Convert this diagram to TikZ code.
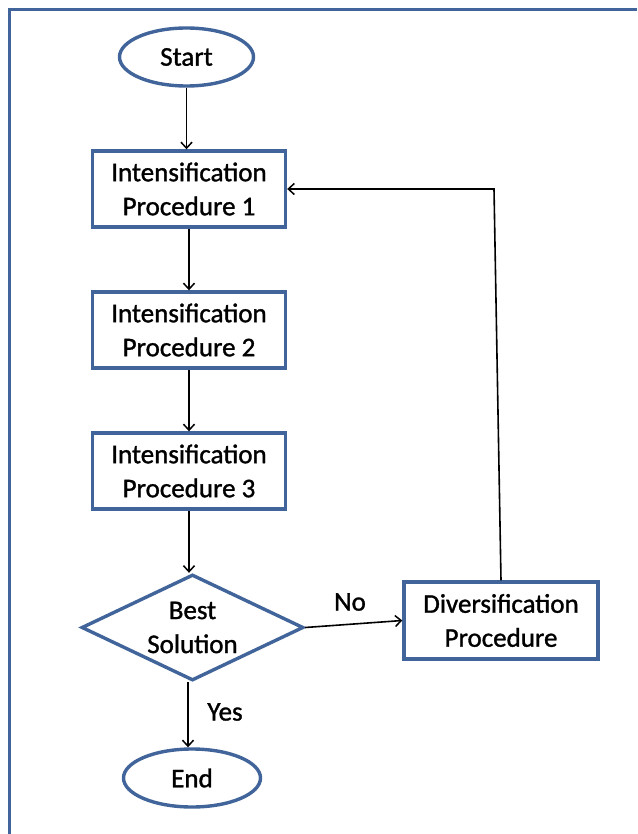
\documentclass[tikz,border=0pt]{standalone}
\usepackage{fontspec}
\setmainfont{Carlito}[FakeBold=1.2]
\usetikzlibrary{shapes.geometric,arrows.meta}
\definecolor{frameblue}{HTML}{41659A}
\begin{document}
\begin{tikzpicture}[x=1pt,y=-1pt,
  every node/.style={font=\fontsize{27}{34}\selectfont\addfontfeature{FakeBold=1.2}, align=center, inner sep=0pt},
  procbox/.style={draw=frameblue, line width=3.4pt, minimum width=193pt, minimum height=76pt},
  termnode/.style={ellipse, draw=frameblue, line width=3.4pt, minimum width=134pt, minimum height=58pt},
  decide/.style={diamond, draw=frameblue, line width=3.4pt, minimum width=222pt, minimum height=106pt, aspect=2.07},
  conn/.style={line width=1.6pt, -{Straight Barb[length=6pt,width=11pt,line width=1.5pt]}},
  lbl/.style={font=\fontsize{27}{30}\selectfont\addfontfeature{FakeBold=1.2}}]
\useasboundingbox (0,0) rectangle (637,834);
\fill[white] (0,0) rectangle (637,834);
\draw[frameblue, line width=3pt] (9,834) -- (9,9.5) -- (637,9.5);

\node[termnode] (start) at (186.5,57) {Start};
\node[procbox] (p1) at (189,189) {Intensification\\Procedure 1};
\node[procbox] (p2) at (189,330) {Intensification\\Procedure 2};
\node[procbox] (p3) at (189,471) {Intensification\\Procedure 3};
\node[decide] (best) at (192.5,627.5) {Best\\Solution};
\node[termnode, minimum width=137pt, minimum height=58pt] (end) at (192,778) {End};
\node[procbox, minimum width=194pt, minimum height=77pt] (div) at (501,620.5) {Diversification\\Procedure};

\node[lbl] (yes) at (225,712) {Yes};
\node[lbl] (no) at (350,602) {No};

\coordinate (corner) at (494,189);

\draw[conn] (start.south) -- (p1.north -| start.south);
\draw[conn] (p1.south) -- (p2.north);
\draw[conn] (p2.south) -- (p3.north);
\draw[conn] (p3.south) -- (best.north -| p3.south);
\draw[conn] (best.south -| 188,0) -- (end.north -| 188,0);
\draw[conn] (best.east) -- (div.west);
\draw[conn] (div.north) -- (corner) -- (p1.east);
\end{tikzpicture}
\end{document}
